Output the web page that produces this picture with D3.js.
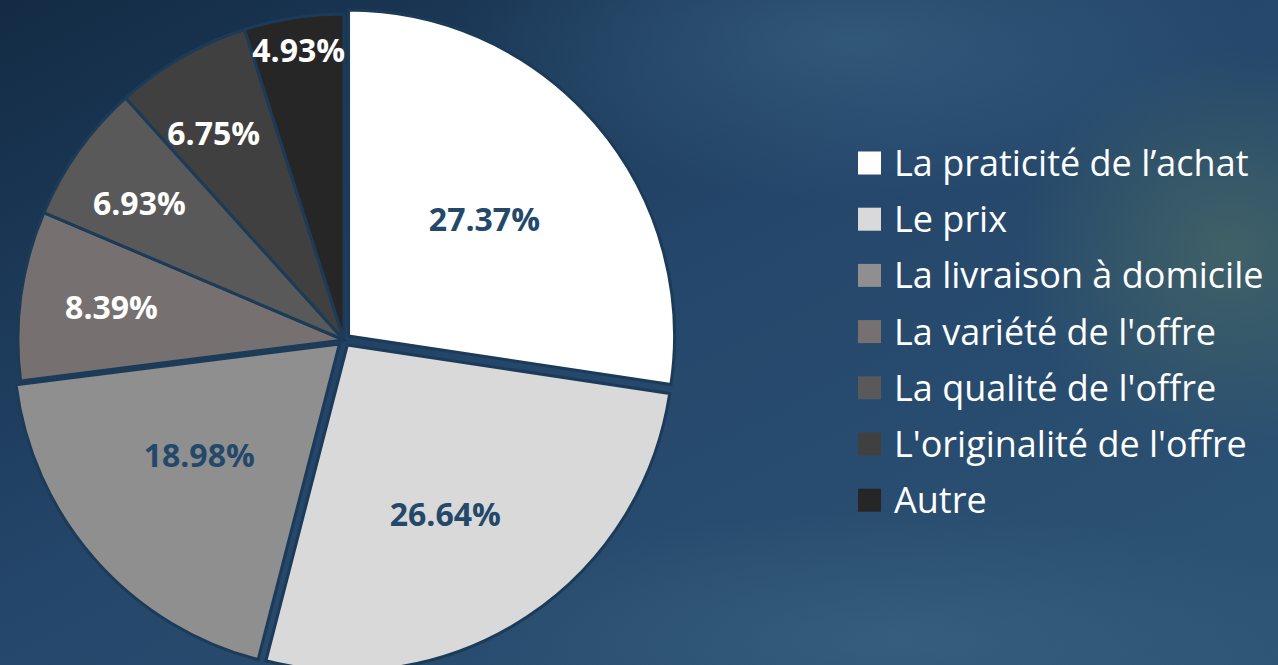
<!DOCTYPE html>
<html>
<head>
<meta charset="utf-8">
<script src="https://cdn.jsdelivr.net/npm/d3@7"></script>
<style>
  html, body { margin: 0; padding: 0; background: #203f5c; overflow: hidden; }
  svg { display: block; }
</style>
</head>
<body>
<svg id="chart" width="1278" height="665"></svg>
<script>
// ---- data ----
const categories = [
  "La praticité de l\u2019achat",
  "Le prix",
  "La livraison à domicile",
  "La variété de l'offre",
  "La qualité de l'offre",
  "L'originalité de l'offre",
  "Autre"
];
const values = [27.37, 26.64, 18.98, 8.39, 6.93, 6.75, 4.93];
const valueLabels = ["27.37%", "26.64%", "18.98%", "8.39%", "6.93%", "6.75%", "4.93%"];

// ---- style / layout config ----
const sliceColors = ["#ffffff", "#d9d9d9", "#8f8f8f", "#767170", "#595959", "#404040", "#262626"];
const labelColors = ["#24486a", "#24486a", "#24486a", "#ffffff", "#ffffff", "#ffffff", "#ffffff"];
const explode = [6, 6, 6, 0, 0, 0, 0];
const labelRadius = [0.55, 0.60, 0.55, 0.72, 0.755, 0.75, 0.9];
const labelAngleShift = [0, 0.06, 0.05, 0, -0.03, -0.04, 0];
const W = 1278, H = 665;
const cx = 344, cy = 340, R = 326;
const bgStroke = "#1c3b58";

const svg = d3.select("#chart");
const defs = svg.append("defs");

// background
const lg = defs.append("linearGradient").attr("id", "bg").attr("x1", 0).attr("y1", 0).attr("x2", 1).attr("y2", 1);
lg.append("stop").attr("offset", "0%").attr("stop-color", "#132b44");
lg.append("stop").attr("offset", "45%").attr("stop-color", "#24466a");
lg.append("stop").attr("offset", "100%").attr("stop-color", "#2d5475");
svg.append("rect").attr("width", W).attr("height", H).attr("fill", "url(#bg)");

const rg = defs.append("radialGradient").attr("id", "glow").attr("cx", 0.5).attr("cy", 0.5).attr("r", 0.5);
rg.append("stop").attr("offset", "0%").attr("stop-color", "#4a6a62").attr("stop-opacity", 0.7);
rg.append("stop").attr("offset", "100%").attr("stop-color", "#4a6a62").attr("stop-opacity", 0);
svg.append("ellipse").attr("cx", 1230).attr("cy", 250).attr("rx", 220).attr("ry", 200).attr("fill", "url(#glow)");

const rg2 = defs.append("radialGradient").attr("id", "glow2").attr("cx", 0.5).attr("cy", 0.5).attr("r", 0.5);
rg2.append("stop").attr("offset", "0%").attr("stop-color", "#3a6385").attr("stop-opacity", 0.65);
rg2.append("stop").attr("offset", "100%").attr("stop-color", "#3a6385").attr("stop-opacity", 0);
svg.append("ellipse").attr("cx", 850).attr("cy", 40).attr("rx", 400).attr("ry", 160).attr("fill", "url(#glow2)");

const rg3 = defs.append("radialGradient").attr("id", "glow3").attr("cx", 0.5).attr("cy", 0.5).attr("r", 0.5);
rg3.append("stop").attr("offset", "0%").attr("stop-color", "#406886").attr("stop-opacity", 0.55);
rg3.append("stop").attr("offset", "100%").attr("stop-color", "#406886").attr("stop-opacity", 0);
svg.append("ellipse").attr("cx", 900).attr("cy", 640).attr("rx", 450).attr("ry", 130).attr("fill", "url(#glow3)");

// pie
const data = categories.map((c, i) => ({ name: c, value: values[i], label: valueLabels[i], i }));
const pie = d3.pie().value(d => d.value).sort(null);
const arcs = pie(data);
const arc = d3.arc().innerRadius(0).outerRadius(R);

const g = svg.append("g").attr("transform", `translate(${cx},${cy})`);

function offset(d) {
  const a = (d.startAngle + d.endAngle) / 2;
  const e = explode[d.index];
  return [Math.sin(a) * e, -Math.cos(a) * e];
}

g.selectAll("path.slice")
  .data(arcs)
  .join("path")
  .attr("class", "slice")
  .attr("d", arc)
  .attr("transform", d => { const o = offset(d); return `translate(${o[0]},${o[1]})`; })
  .attr("fill", d => sliceColors[d.index])
  .attr("stroke", bgStroke)
  .attr("stroke-width", 3)
  .attr("stroke-linejoin", "miter");

g.selectAll("text.lbl")
  .data(arcs)
  .join("text")
  .attr("class", "lbl")
  .attr("transform", d => {
    const a = (d.startAngle + d.endAngle) / 2 + labelAngleShift[d.index];
    const r = R * labelRadius[d.index];
    const o = offset(d);
    return `translate(${Math.sin(a) * r + o[0]},${-Math.cos(a) * r + o[1]})`;
  })
  .attr("text-anchor", "middle")
  .attr("dy", "0.36em")
  .attr("font-family", "'Open Sans', sans-serif")
  .attr("font-weight", 700)
  .attr("font-size", 32)
  .attr("fill", d => labelColors[d.index])
  .text(d => d.data.label);

// legend
const legend = svg.append("g").attr("transform", "translate(858,163)");
const rowH = 56.2;
const items = legend.selectAll("g.item").data(data).join("g")
  .attr("class", "item")
  .attr("transform", (d, i) => `translate(0,${i * rowH})`);
items.append("rect").attr("x", 0).attr("y", -11.5).attr("width", 23).attr("height", 23)
  .attr("fill", d => sliceColors[d.i]);
items.append("text").attr("x", 36).attr("dy", "0.36em")
  .attr("font-family", "'Open Sans', sans-serif")
  .attr("font-size", 36)
  .attr("fill", "#ffffff")
  .text(d => d.name);
</script>
</body>
</html>
